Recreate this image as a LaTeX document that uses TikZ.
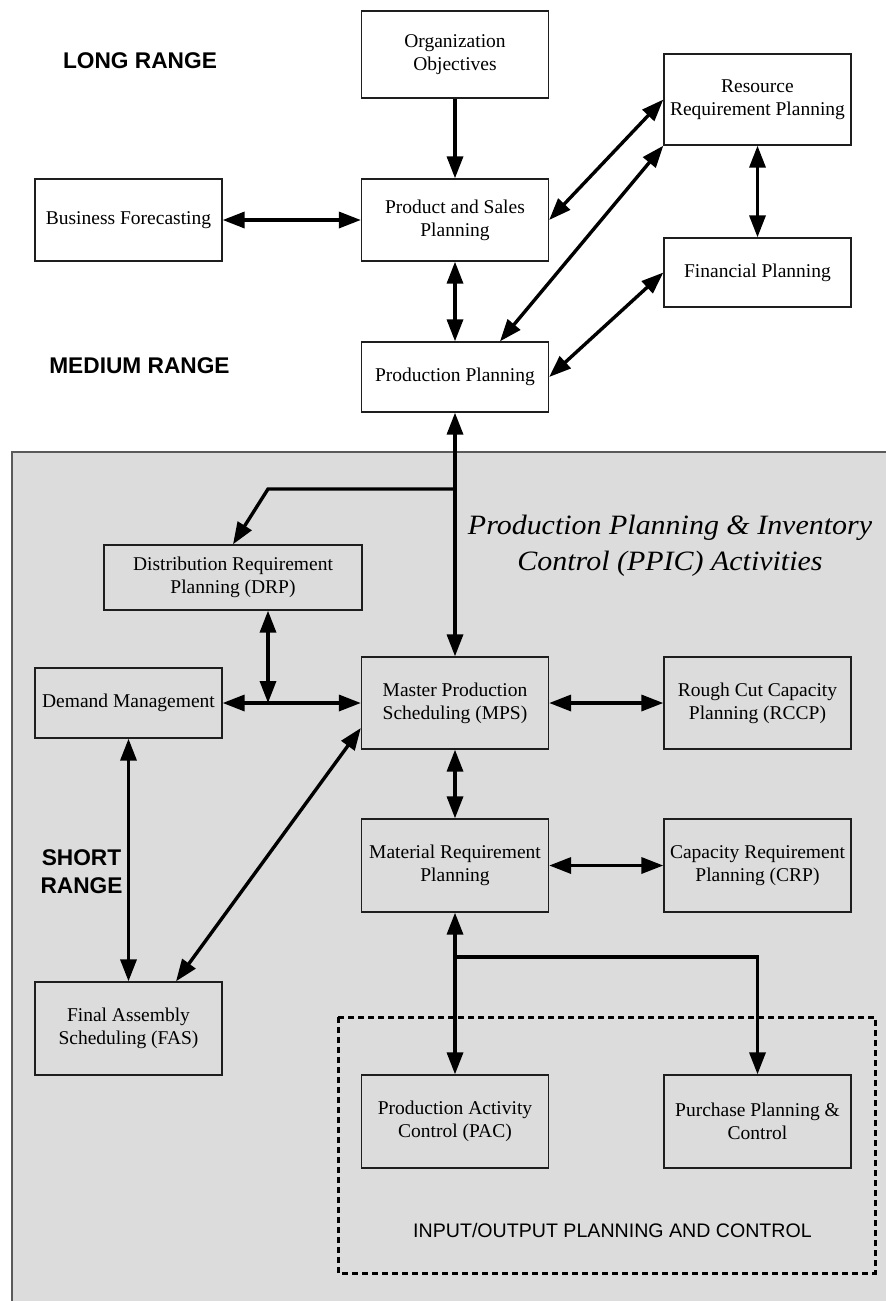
\documentclass[tikz,border=0pt]{standalone}
\usepackage{fontspec}
\setmainfont{Liberation Serif}
\newfontfamily\labelsans{Liberation Sans}
\newfontfamily\titleserif{Liberation Serif}[FakeStretch=1.07]
\usetikzlibrary{arrows.meta,calc}
\definecolor{panelgray}{HTML}{DCDCDC}
\definecolor{boxline}{HTML}{1E1E1E}
\definecolor{panelline}{HTML}{5A5A5A}

\begin{document}
\begin{tikzpicture}[x=1pt,y=-1pt,
  box/.style={draw=boxline, line width=1.3pt, align=center, inner sep=0pt,
    font=\fontsize{19.5pt}{23pt}\selectfont},
  wbox/.style={box, fill=white},
  wide/.style={minimum width=187pt},
  link/.style={line width=3.4pt, -{Triangle[length=22pt,width=16pt]}},
  dlink/.style={line width=3.4pt, {Triangle[length=22pt,width=16pt]}-{Triangle[length=22pt,width=16pt]}},
  rangelabel/.style={font=\labelsans\bfseries\fontsize{22.7pt}{28pt}\selectfont, align=center, inner sep=0pt},
]
\useasboundingbox (0,0) rectangle (886,1301);

% shaded PPIC panel
\fill[panelgray] (12,452) rectangle (892,1308);
\draw[panelline, line width=1.4pt] (12,1308) -- (12,452) -- (892,452);

% range labels
\node[rangelabel, anchor=base] (long) at (140,68) {LONG RANGE};
\node[rangelabel, anchor=base] (medium) at (139.5,373) {MEDIUM RANGE};
\node[rangelabel] (short) at (81.5,872) {SHORT\\RANGE};

% panel title
\node[font=\titleserif\itshape\fontsize{28pt}{36pt}\selectfont, align=center, inner sep=0pt]
  (ppic) at (670,546) {Production Planning \& Inventory\\Control (PPIC) Activities};

% long and medium range boxes
\node[wbox, wide, minimum height=87pt] (org) at (455,54.5) {Organization\\Objectives};
\node[wbox, wide, minimum height=82pt] (psp) at (455,220) {Product and Sales\\Planning};
\node[wbox, wide, minimum height=82pt] (bf) at (128.5,220) {Business Forecasting};
\node[wbox, wide, minimum height=91pt] (rrp) at (757.5,99.5) {Resource\\Requirement Planning};
\node[wbox, wide, minimum height=69pt] (fp) at (757.5,272.5) {Financial Planning};
\node[wbox, wide, minimum height=70pt] (pp) at (455,377) {Production Planning};

% short range boxes
\node[box, minimum width=258pt, minimum height=65pt] (drp) at (233,577.5) {Distribution Requirement\\Planning (DRP)};
\node[box, wide, minimum height=70pt] (dm) at (128.5,703) {Demand Management};
\node[box, wide, minimum height=92pt] (mps) at (455,703) {Master Production\\Scheduling (MPS)};
\node[box, wide, minimum height=92pt] (rccp) at (757.5,703) {Rough Cut Capacity\\Planning (RCCP)};
\node[box, wide, minimum height=93pt] (mrp) at (455,865.5) {Material Requirement\\Planning};
\node[box, wide, minimum height=93pt] (crp) at (757.5,865.5) {Capacity Requirement\\Planning (CRP)};
\node[box, wide, minimum height=93pt] (fas) at (128.5,1028.5) {Final Assembly\\Scheduling (FAS)};
\node[box, wide, minimum height=93pt] (pac) at (455,1121.5) {Production Activity\\Control (PAC)};
\node[box, wide, minimum height=93pt] (ppc) at (757.5,1121.5) {Purchase Planning \&\\Control};

% input/output planning frame
\draw[black, line width=3pt, dash pattern=on 6pt off 4pt] (338,1017) rectangle (875,1273);
\node[font=\labelsans\fontsize{19.6pt}{23pt}\selectfont, anchor=base, inner sep=0pt]
  (io) at (612.5,1237) {INPUT/OUTPUT PLANNING AND CONTROL};

% junction points
\coordinate (jdrp) at (455,489);
\coordinate (jdm) at (268,703);
\coordinate (jmrp) at (455,957);

% connectors, upper part
\draw[link] (org.south) -- (psp.north);
\draw[dlink] (bf.east) -- (psp.west);
\draw[dlink] (psp.south) -- (pp.north);
\draw[dlink] (psp.east) -- (rrp.west);
\draw[dlink] ([xshift=45pt]pp.north) -- (rrp.south west);
\draw[dlink] (pp.east) -- (fp.west);
\draw[dlink] (rrp.south) -- (fp.north);

% connectors, PPIC panel
\draw[dlink] (pp.south) -- (mps.north);
\draw[link, line join=miter] (jdrp) -- (jdrp -| jdm) -- (drp.north);
\draw[dlink] (drp.south -| jdm) -- (jdm);
\draw[dlink] (dm.east) -- (mps.west);
\draw[dlink] (mps.east) -- (rccp.west);
\draw[dlink] (mps.south) -- (mrp.north);
\draw[dlink] (mrp.east) -- (crp.west);
\draw[dlink] (dm.south) -- (fas.north);
\draw[dlink] ([yshift=-25pt]mps.west) -- ([xshift=47.5pt]fas.north);
\draw[dlink] (mrp.south) -- (pac.north);
\draw[link, line join=miter] (jmrp) -- (jmrp -| ppc) -- (ppc.north);
\end{tikzpicture}
\end{document}
